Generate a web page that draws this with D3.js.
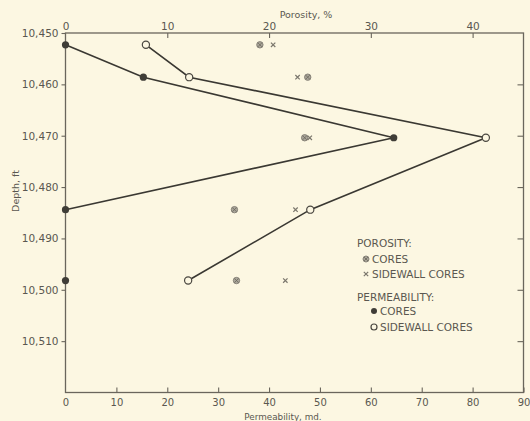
<!DOCTYPE html>
<html><head><meta charset="utf-8">
<script src="https://cdn.jsdelivr.net/npm/d3@7"></script>
<style>
html,body{margin:0;padding:0;background:#fcf7e2;}
svg{display:block;}
text{font-family:"DejaVu Sans",sans-serif;fill:#5a5750;}
</style></head>
<body>
<svg id="c" width="530" height="421"></svg>
<script>
// ---- data ----
const depths        = [10452.3, 10458.6, 10470.4, 10484.4, 10498.2];
const permCores     = [0, 15.3, 64.5, 0, 0];
const permSidewall  = [15.8, 24.3, 82.6, 48.1, 24.1];
const porCores      = [19.1, 23.8, 23.5, 16.6, 16.8];
const porSidewall   = [20.4, 22.8, 24.0, 22.6, 21.6];
const permCoresLinked = 4; // first 4 cores permeability points are connected
const depthTicks = [10450, 10460, 10470, 10480, 10490, 10500, 10510];
const permTicks  = [0, 10, 20, 30, 40, 50, 60, 70, 80, 90];
const porTicks   = [0, 10, 20, 30, 40];
const depthDomain = [10450, 10520];
const permDomain  = [0, 90];
const porDomain   = [0, 45];

const L = 65.5, R = 523.5, T = 33, B = 392.5;
const svg = d3.select("#c");
svg.append("rect").attr("width",530).attr("height",421).attr("fill","#fcf7e2");

const y  = d3.scaleLinear().domain(depthDomain).range([T, B]);
const xp = d3.scaleLinear().domain(permDomain).range([L, R]);
const xo = d3.scaleLinear().domain(porDomain).range([L, R]);
const fmt = d => d3.format(",")(d);

const axisColor = "#6a665c";
// Left axis (outward ticks)
const gl = svg.append("g").attr("transform",`translate(${L},0)`)
  .call(d3.axisLeft(y).tickValues(depthTicks).tickSize(4).tickPadding(3).tickFormat(fmt));
// Right axis (inward ticks)
const gr = svg.append("g").attr("transform",`translate(${R},0)`)
  .call(d3.axisLeft(y).tickValues(depthTicks.slice(1)).tickSize(6).tickFormat(""));
// Bottom axis (inward ticks, labels below)
const gb = svg.append("g").attr("transform",`translate(0,${B})`)
  .call(d3.axisBottom(xp).tickValues(permTicks).tickSizeInner(-5).tickSizeOuter(0).tickPadding(6));
// Top axis (inward ticks)
const gt = svg.append("g").attr("transform",`translate(0,${T})`)
  .call(d3.axisTop(xo).tickValues(porTicks).tickSizeInner(-5).tickSizeOuter(0).tickPadding(3));

[gl,gr,gb,gt].forEach(g=>{
  g.select(".domain").remove();
  g.selectAll("line").attr("stroke",axisColor).attr("stroke-width",1.1);
  g.selectAll("text").attr("font-size",10.5).attr("fill","#5a5750")
   .style("font-family","DejaVu Sans, sans-serif");
});
gb.selectAll(".tick").filter(d=>d===0).select("line").remove();
gt.selectAll(".tick").filter(d=>d===0).select("line").remove();
gb.selectAll("text").attr("font-size",10).attr("dy","0.71em");

// frame
svg.append("rect").attr("x",L).attr("y",T).attr("width",R-L).attr("height",B-T)
  .attr("fill","none").attr("stroke",axisColor).attr("stroke-width",1.3);

// axis titles
svg.append("text").attr("x",306).attr("y",18).attr("text-anchor","middle")
  .attr("font-size",9.5).text("Porosity, %");
svg.append("text").attr("x",283).attr("y",419.5).attr("text-anchor","middle")
  .attr("font-size",8.8).text("Permeability, md.");
svg.append("text").attr("transform","translate(19,191) rotate(-90)").attr("text-anchor","middle")
  .attr("font-size",9.5).text("Depth, ft");

// lines
const lineColor = "#3a3832";
const line = d3.line().x(d=>xp(d[0])).y(d=>y(d[1]));
const coresPts = permCores.map((v,i)=>[v,depths[i]]);
const swPts = permSidewall.map((v,i)=>[v,depths[i]]);
svg.append("path").attr("d",line(coresPts.slice(0,permCoresLinked)))
  .attr("fill","none").attr("stroke",lineColor).attr("stroke-width",1.6);
svg.append("path").attr("d",line(swPts))
  .attr("fill","none").attr("stroke",lineColor).attr("stroke-width",1.6);

// marker helpers
function filledDot(g,cx,cy,r){ g.append("circle").attr("cx",cx).attr("cy",cy).attr("r",r).attr("fill","#3f3d37"); }
function openDot(g,cx,cy,r){ g.append("circle").attr("cx",cx).attr("cy",cy).attr("r",r).attr("fill","#fcf7e2").attr("stroke","#4a4740").attr("stroke-width",1.2); }
function circX(g,cx,cy,r){
  g.append("circle").attr("cx",cx).attr("cy",cy).attr("r",r).attr("fill","#aaa69a").attr("stroke","#807c72").attr("stroke-width",0.9);
  const k=r*0.65;
  g.append("path").attr("d",`M${cx-k},${cy-k}L${cx+k},${cy+k}M${cx-k},${cy+k}L${cx+k},${cy-k}`).attr("stroke","#6a665c").attr("stroke-width",0.8);
}
function cross(g,cx,cy,s){
  g.append("path").attr("d",`M${cx-s},${cy-s}L${cx+s},${cy+s}M${cx-s},${cy+s}L${cx+s},${cy-s}`).attr("stroke","#7a766c").attr("stroke-width",1.2);
}

const gm = svg.append("g");
porCores.forEach((v,i)=>circX(gm,xo(v),y(depths[i]),3.2));
porSidewall.forEach((v,i)=>cross(gm,xo(v),y(depths[i]),2.2));
permCores.forEach((v,i)=>filledDot(gm,xp(v),y(depths[i]),3.6));
permSidewall.forEach((v,i)=>openDot(gm,xp(v),y(depths[i]),3.6));

// legend
const lg = svg.append("g");
const lfs = 10.5;
lg.append("text").attr("x",357).attr("y",247).attr("font-size",lfs).text("POROSITY:");
circX(lg,366,259,3); lg.append("text").attr("x",372).attr("y",263).attr("font-size",lfs).text("CORES");
cross(lg,366,274,2.2); lg.append("text").attr("x",372).attr("y",278).attr("font-size",lfs).text("SIDEWALL CORES");
lg.append("text").attr("x",357).attr("y",301).attr("font-size",lfs).text("PERMEABILITY:");
filledDot(lg,374,311,3); lg.append("text").attr("x",380).attr("y",315).attr("font-size",lfs).text("CORES");
openDot(lg,374,327,3); lg.append("text").attr("x",380).attr("y",331).attr("font-size",lfs).text("SIDEWALL CORES");
</script>
</body></html>
